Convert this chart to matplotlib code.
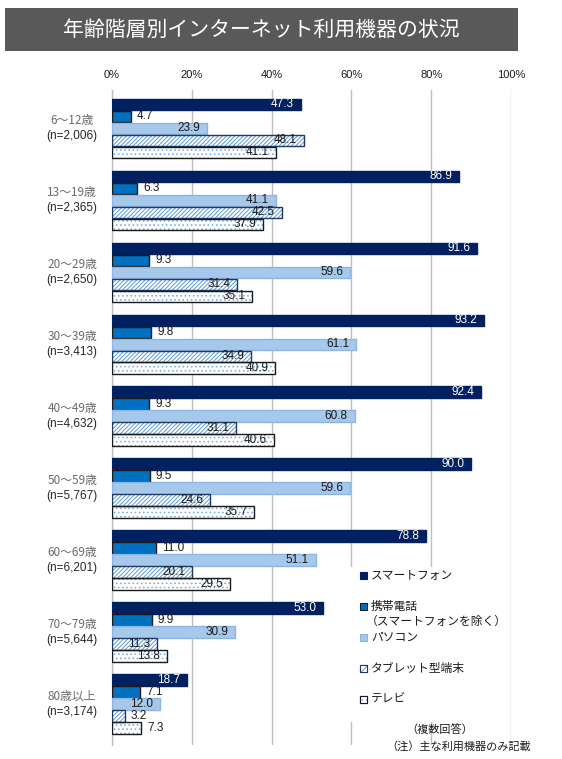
import matplotlib
matplotlib.use("Agg")
import matplotlib.pyplot as plt
from matplotlib.patches import Rectangle
import numpy as np

plt.rcParams['font.family'] = ['Liberation Sans', 'Noto Sans CJK JP', 'DejaVu Sans']
plt.rcParams['hatch.linewidth'] = 0.7

title = "年齢階層別インターネット利用機器の状況"
ages = ["6～12歳", "13～19歳", "20～29歳", "30～39歳", "40～49歳",
        "50～59歳", "60～69歳", "70～79歳", "80歳以上"]
counts = ["(n=2,006)", "(n=2,365)", "(n=2,650)", "(n=3,413)", "(n=4,632)",
          "(n=5,767)", "(n=6,201)", "(n=5,644)", "(n=3,174)"]
series = ["スマートフォン", "携帯電話\n（スマートフォンを除く）", "パソコン",
          "タブレット型端末", "テレビ"]
smartphone = [47.3, 86.9, 91.6, 93.2, 92.4, 90.0, 78.8, 53.0, 18.7]
mobile = [4.7, 6.3, 9.3, 9.8, 9.3, 9.5, 11.0, 9.9, 7.1]
pc = [23.9, 41.1, 59.6, 61.1, 60.8, 59.6, 51.1, 30.9, 12.0]
tablet = [48.1, 42.5, 31.4, 34.9, 31.1, 24.6, 20.1, 11.3, 3.2]
tv = [41.1, 37.9, 35.1, 40.9, 40.6, 35.7, 29.5, 13.8, 7.3]
values = [smartphone, mobile, pc, tablet, tv]

W, H = 562, 759
fig = plt.figure(figsize=(W / 100, H / 100), dpi=100)


def fx(x):
    return x / W


def fy(y):
    return 1 - y / H


# title band
fig.add_artist(Rectangle((fx(5), fy(51)), fx(513), 43 / H, transform=fig.transFigure,
                         facecolor='#595959', edgecolor='none'))
fig.text(fx(261), fy(30), title, color='white', fontsize=15, ha='center', va='center',
         family=['Noto Sans CJK JP'])

ax = fig.add_axes([fx(112), fy(745), fx(511) - fx(112), fy(90) - fy(745)])

y = np.arange(len(ages))
step = 1 / 6
h = 0.155
face = ['#002060', '#0070C0', '#A6C8EA', '#FFFFFF', '#FFFFFF']
edge = ['#002060', '#1a1a1a', '#8DB4E2', '#1F3864', '#1a1a1a']
hatch = [None, None, None, '////////', '....']
hcol = [None, None, None, '#5B9BD5', '#7FB0E0']
outside_always = [False, True, False, False, False]

for i, vals in enumerate(values):
    pos = y + (i - 2) * step
    if hatch[i]:
        ax.barh(pos, vals, height=h, color='#FFFFFF', edgecolor=hcol[i], hatch=hatch[i],
                linewidth=0, zorder=3)
        ax.barh(pos, vals, height=h, fill=False, edgecolor=edge[i], linewidth=1.0, zorder=4)
    else:
        ax.barh(pos, vals, height=h, color=face[i], edgecolor=edge[i], linewidth=1.0, zorder=3)
    for p, v in zip(pos, vals):
        if v >= 10 and not outside_always[i]:
            ax.text(v - 1.7, p, f"{v:.1f}", ha='right', va='center', fontsize=8.5,
                    color='white' if i == 0 else '#1a1a1a', zorder=5)
        else:
            ax.text(v + 1.5, p, f"{v:.1f}", ha='left', va='center', fontsize=8.5,
                    color='#1a1a1a', zorder=5)

ax.set_xlim(0, 100)
ax.set_ylim(len(ages) - 1 + 0.57, -0.53)
ax.set_xticks(np.arange(0, 101, 20))
ax.set_xticklabels([f"{t}%" for t in range(0, 101, 20)], fontsize=8, color='#1a1a1a')
ax.xaxis.tick_top()
ax.tick_params(axis='x', length=0, pad=7)
ax.set_yticks([])
ax.grid(axis='x', color='#BFBFBF', linewidth=1.0, zorder=0)
for s in ['top', 'bottom', 'right']:
    ax.spines[s].set_visible(False)
ax.spines['left'].set_color('#BFBFBF')
ax.spines['left'].set_linewidth(1.0)

for yi, a, c in zip(y, ages, counts):
    ax.text(-0.1, yi - 0.11, a, transform=ax.get_yaxis_transform(), ha='center', va='center',
            fontsize=8.5, color='#6b6b6b', family=['Noto Sans CJK JP'])
    ax.text(-0.1, yi + 0.11, c, transform=ax.get_yaxis_transform(), ha='center', va='center',
            fontsize=8.5, color='#262626')

# legend area (white box over the grid)
fig.add_artist(Rectangle((fx(347), fy(722)), fx(162), 155 / H, transform=fig.transFigure,
                         facecolor='white', edgecolor='none', zorder=6))
ly = [575, 606, 637, 668, 699]
for i, lab in enumerate(series):
    yy = ly[i]
    fig.add_artist(Rectangle((fx(360), fy(yy + 3.5)), fx(7), 7 / H, transform=fig.transFigure,
                             facecolor=face[i], edgecolor=edge[i], linewidth=0.8, zorder=7))
    if hatch[i]:
        fig.add_artist(Rectangle((fx(360), fy(yy + 3.5)), fx(7), 7 / H, transform=fig.transFigure,
                                 facecolor='white', edgecolor=hcol[i], hatch=hatch[i][:4],
                                 linewidth=0, zorder=7))
        fig.add_artist(Rectangle((fx(360), fy(yy + 3.5)), fx(7), 7 / H, transform=fig.transFigure,
                                 fill=False, edgecolor=edge[i], linewidth=0.8, zorder=8))
    lines = lab.split("\n")
    fig.text(fx(371), fy(yy), lines[0], fontsize=8.5, color='#1a1a1a', va='center', ha='left',
             family=['Noto Sans CJK JP'], zorder=8)
    if len(lines) > 1:
        fig.text(fx(366), fy(yy + 15.5), lines[1], fontsize=8.5, color='#1a1a1a', va='center',
                 ha='left', family=['Noto Sans CJK JP'], zorder=8)

fig.text(fx(440), fy(729), "（複数回答）", fontsize=8, color='#1a1a1a', ha='center',
         va='center', family=['Noto Sans CJK JP'])
fig.text(fx(531), fy(746), "（注）主な利用機器のみ記載", fontsize=8, color='#1a1a1a',
         ha='right', va='center', family=['Noto Sans CJK JP'])

fig.savefig("out.png", dpi=100)
